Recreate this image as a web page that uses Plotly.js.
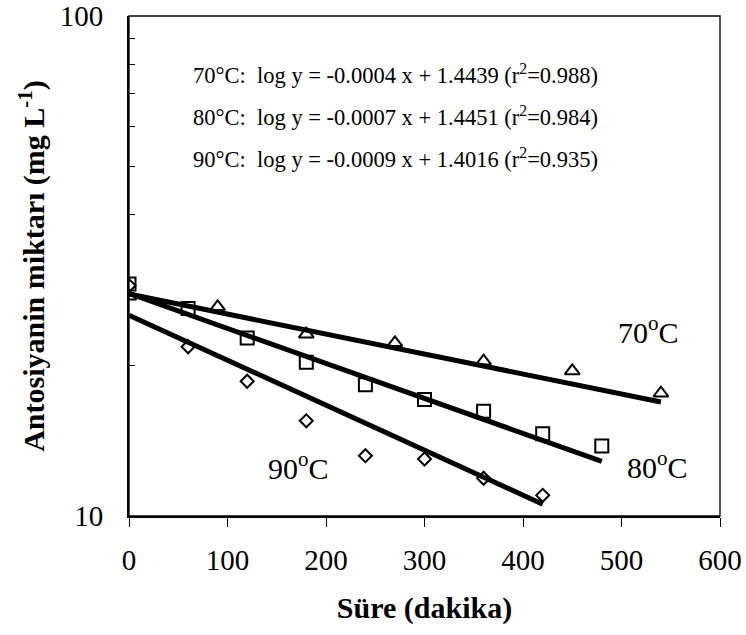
<!DOCTYPE html>
<html>
<head>
<meta charset="utf-8">
<script src="https://cdn.plot.ly/plotly-3.0.1.min.js"></script>
<style>html,body{margin:0;padding:0;background:#fff;}#chart{width:746px;height:635px;}</style>
</head>
<body>
<div id="chart"></div>
<script>
// Measured points
var time70 = [0, 90, 180, 270, 360, 450, 540];
var val70  = [27.5, 26.2, 23.1, 22.2, 20.4, 19.5, 17.6];
var time80 = [0, 60, 120, 180, 240, 300, 360, 420, 480];
var val80  = [29.1, 26.0, 22.7, 20.3, 18.3, 17.1, 16.2, 14.6, 13.8];
var time90 = [0, 60, 120, 180, 240, 300, 360, 420];
var val90  = [28.9, 21.8, 18.6, 15.5, 13.2, 13.0, 11.9, 11.0];

var fit70x = [0, 540];  var fit70y = [27.79, 16.90];
var fit80x = [0, 480];  var fit80y = [27.87, 12.86];
var fit90x = [0, 420];  var fit90y = [25.21, 10.56];

// Texts
var eqTexts = [
  "70°C:&nbsp; log y = -0.0004 x + 1.4439 (r<sup>2</sup>=0.988)",
  "80°C:&nbsp; log y = -0.0007 x + 1.4451 (r<sup>2</sup>=0.984)",
  "90°C:&nbsp; log y = -0.0009 x + 1.4016 (r<sup>2</sup>=0.935)"
];
var seriesLabels = ["70<sup>o</sup>C", "80<sup>o</sup>C", "90<sup>o</sup>C"];
var xTickVals = [0, 100, 200, 300, 400, 500, 600];
var yTickVals = [10, 20, 30, 40, 50, 60, 70, 80, 90, 100];
var yTickText = ["10", "", "", "", "", "", "", "", "", "100"];

var FONT = "Liberation Serif";

function pts(x, y, sym, size) {
  return {x: x, y: y, type: "scatter", mode: "markers", showlegend: false, hoverinfo: "skip",
    marker: {symbol: sym, size: size, color: "#000", line: {color: "#000", width: 2}}};
}
function fit(x, y) {
  return {x: x, y: y, type: "scatter", mode: "lines", showlegend: false, hoverinfo: "skip",
    line: {color: "#000", width: 5}};
}

var data = [
  fit(fit70x, fit70y), fit(fit80x, fit80y), fit(fit90x, fit90y),
  pts(time70, val70, "triangle-up-open", 13),
  pts(time80, val80, "square-open", 13),
  pts(time90, val90, "diamond-open", 10)
];

// plot area in pixels: top 16, bottom 516 (height 500)
function py(pix) { return (516 - pix) / 500; }
function px(pix) { return (pix - 129) / 591; }

var annotations = [];
var eqY = [74, 116, 158];
for (var i = 0; i < eqTexts.length; i++) {
  annotations.push({text: eqTexts[i], xref: "paper", yref: "paper", x: px(191), y: py(eqY[i]),
    xanchor: "left", yanchor: "middle", showarrow: false, font: {family: FONT, size: 22.5, color: "#000"}});
}
var labPos = [[616, 330], [625, 465], [266, 466]];
for (var j = 0; j < seriesLabels.length; j++) {
  annotations.push({text: seriesLabels[j], xref: "paper", yref: "paper", x: px(labPos[j][0]), y: py(labPos[j][1]),
    xanchor: "left", yanchor: "middle", showarrow: false, font: {family: FONT, size: 30, color: "#000"}});
}

var layout = {
  width: 746, height: 635,
  margin: {l: 129, r: 26, t: 16, b: 119, pad: 0},
  paper_bgcolor: "#fff", plot_bgcolor: "#fff",
  font: {family: FONT, color: "#000"},
  xaxis: {
    range: [0, 600], tickvals: xTickVals, ticks: "outside", ticklen: 9, tickwidth: 1, tickcolor: "#000",
    showline: true, linewidth: 2, linecolor: "#000", showgrid: false, zeroline: false,
    tickfont: {family: FONT, size: 29, color: "#000"}, ticklabelstandoff: 8,
    title: {text: "<b>Süre (dakika)</b>", font: {family: FONT, size: 30, color: "#000"}, standoff: 22},
    automargin: false, fixedrange: true
  },
  yaxis: {
    type: "log", range: [1, 2], tickvals: yTickVals, ticktext: yTickText,
    ticks: "inside", ticklen: 6, tickwidth: 1, tickcolor: "#000",
    showline: true, linewidth: 2, linecolor: "#000", showgrid: false, zeroline: false,
    tickfont: {family: FONT, size: 29, color: "#000"}, ticklabelstandoff: 18,
    title: {text: "<b>Antosiyanin miktarı (mg L<sup>-1</sup>)</b>", font: {family: FONT, size: 30, color: "#000"}, standoff: 6},
    automargin: false, fixedrange: true
  },
  shapes: [{type: "rect", xref: "paper", yref: "paper", x0: 0, x1: 1, y0: 0, y1: 1,
    line: {color: "#000", width: 1.3}, layer: "above"}],
  annotations: annotations
};

Plotly.newPlot("chart", data, layout, {displayModeBar: false, staticPlot: true});
</script>
</body>
</html>
